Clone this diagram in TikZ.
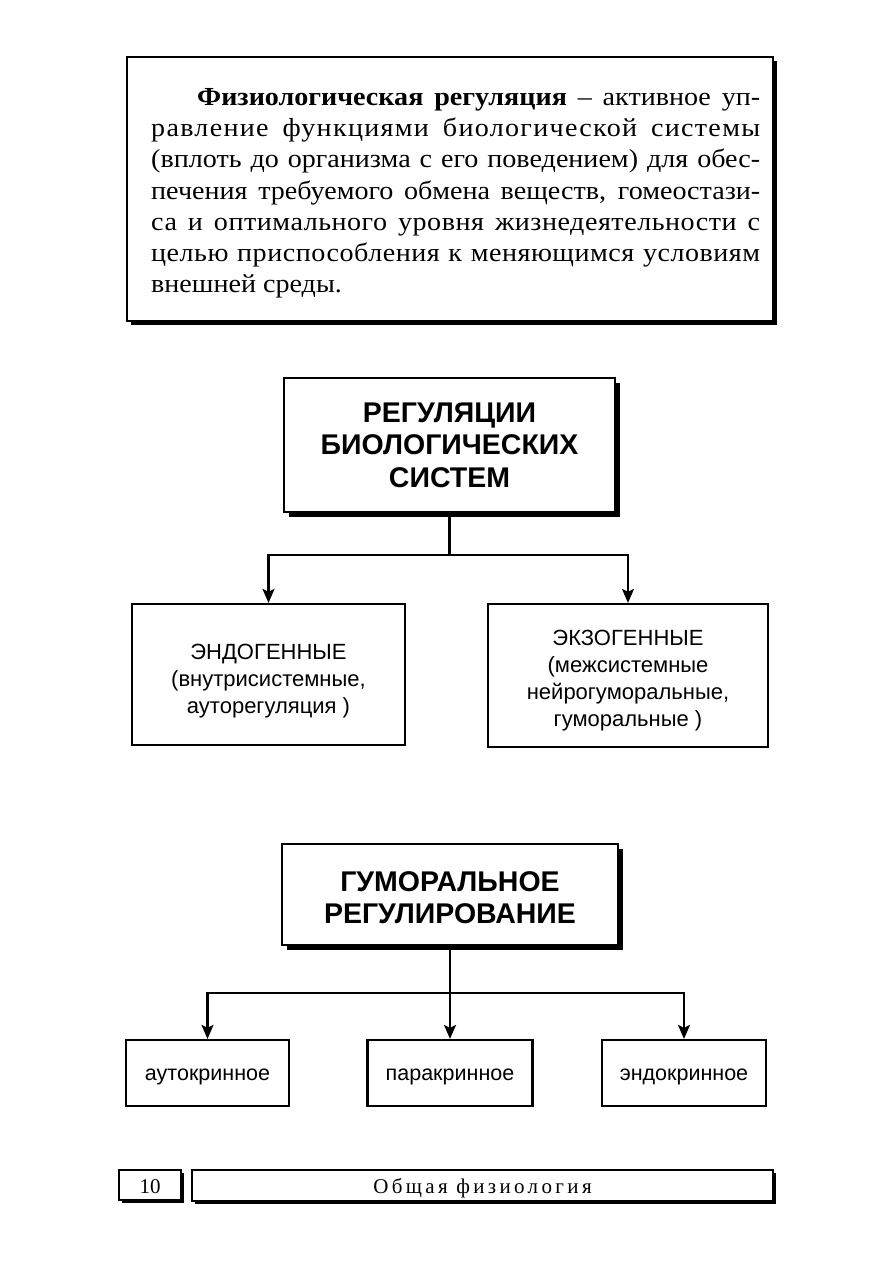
\documentclass[tikz,border=0pt]{standalone}
\usepackage{fontspec}
\setmainfont{Liberation Serif}
\setsansfont{Liberation Sans}
\newfontfamily\bodyserif[FakeStretch=1.08]{Liberation Serif}
\newfontfamily\footserif[LetterSpace=16]{Liberation Serif}
\usetikzlibrary{arrows.meta,shadows}
\newcommand{\jline}[1]{\spaceskip=0.25em plus 1fil minus 0.08em\xspaceskip=\spaceskip\makebox[609pt][s]{#1}}
\newcommand{\lsp}[1]{\addfontfeature{LetterSpace=#1}}
\newcommand{\lift}[1]{\rule{0pt}{#1}}
\begin{document}
\begin{tikzpicture}[x=1pt,y=-1pt,
  box/.style={draw, line width=2.2pt, fill=white, rectangle, inner sep=0pt, align=center},
  shad/.style={drop shadow={shadow xshift=#1, shadow yshift=-#1, fill=black, opacity=1}},
  conn/.style={line width=2.2pt},
  arr/.style={line width=2.2pt, -{Stealth[length=14pt,width=12pt,inset=3pt]}},
  head/.style={font=\sffamily\bfseries\fontsize{28.5}{32.5}\selectfont},
  mid/.style={font=\sffamily\fontsize{22}{27}\selectfont},
  small/.style={font=\sffamily\fontsize{21.5}{25}\selectfont},
  bodyline/.style={anchor=base west, inner sep=0pt, font=\bodyserif\fontsize{26}{31}\selectfont}]
\fill[white] (0,0) rectangle (893,1263);
\useasboundingbox (0,0) rectangle (893,1263);

% definition box
\node[box, shad=4pt, minimum width=646pt, minimum height=264pt] (def) at (450,189) {};
\node[bodyline] (l1) at (151,105) {\jline{\hspace*{46pt}\textbf{Физиологическая регуляция} – активное уп-}};
\node[bodyline] (l2) at (151,136) {\lsp{5}\jline{равление функциями биологической системы}};
\node[bodyline] (l3) at (151,167) {\jline{(вплоть до организма с его поведением) для обес-}};
\node[bodyline] (l4) at (151,199) {\jline{печения требуемого обмена веществ, гомеостази-}};
\node[bodyline] (l5) at (151,230) {\lsp{2}\jline{са и оптимального уровня жизнедеятельности с}};
\node[bodyline] (l6) at (151,261) {\lsp{2}\jline{целью приспособления к меняющимся условиям}};
\node[bodyline] (l7) at (151,292) {внешней среды.};

% regulation tree
\node[box, shad=5pt, head, minimum width=331pt, minimum height=134pt] (reg) at (449.5,445) {РЕГУЛЯЦИИ\\БИОЛОГИЧЕСКИХ\\СИСТЕМ};
\node[box, mid, minimum width=273pt, minimum height=141pt] (endo) at (268.5,674.5) {\lift{28pt}ЭНДОГЕННЫЕ\\(внутрисистемные,\\ауторегуляция )};
\node[box, mid, minimum width=280pt, minimum height=143pt] (exo) at (628,675.5) {\lift{26pt}ЭКЗОГЕННЫЕ\\(межсистемные\\нейрогуморальные,\\гуморальные )};
\coordinate (j1) at (449.5,555);
\draw[conn] (reg.south) -- (j1);
\draw[arr] (j1) -| (endo.north);
\draw[arr] (j1) -| (exo.north);

% humoral tree
\node[box, shad=5pt, head, minimum width=336pt, minimum height=101pt] (hum) at (450,894.5) {\lift{26.5pt}ГУМОРАЛЬНОЕ\\РЕГУЛИРОВАНИЕ};
\node[box, small, minimum width=163pt, minimum height=66pt] (auto) at (207.5,1073) {\lift{20pt}аутокринное};
\node[box, small, minimum width=165pt, minimum height=66pt] (para) at (450,1073) {\lift{20pt}паракринное};
\node[box, small, minimum width=164pt, minimum height=66pt] (endoc) at (684,1073) {\lift{20pt}эндокринное};
\coordinate (j2) at (450,993);
\draw[arr] (hum.south) -- (para.north);
\draw[arr] (j2) -| (auto.north);
\draw[arr] (j2) -| (endoc.north);

% footer
\node[box, shad=3pt, line width=1.6pt, minimum width=62pt, minimum height=30pt, font=\fontsize{21}{24}\selectfont] (page) at (150,1185) {\lift{18pt}10};
\node[box, shad=3pt, line width=1.6pt, minimum width=581pt, minimum height=31pt, font=\footserif\fontsize{21}{24}\selectfont] (foot) at (482.5,1185.5) {\lift{21pt}Общая физиология};
\end{tikzpicture}
\end{document}
